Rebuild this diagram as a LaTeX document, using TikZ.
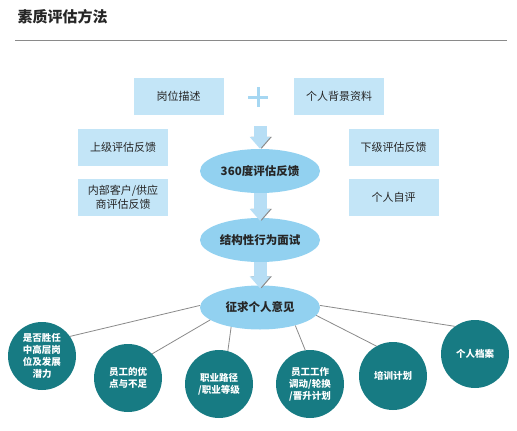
\documentclass[tikz,border=0pt]{standalone}
\usepackage{fontspec}
\setmainfont{Noto Sans CJK SC}
\usetikzlibrary{shapes.geometric,arrows.meta}

\definecolor{boxblue}{HTML}{C3E5F7}
\definecolor{ovalblue}{HTML}{92D1F0}
\definecolor{arrowblue}{HTML}{B7DEF5}
\definecolor{plusblue}{HTML}{A6D7F2}
\definecolor{circteal}{HTML}{177B83}
\definecolor{linegray}{HTML}{8A8A8A}

\tikzstyle{infobox} = [rectangle,fill=boxblue,minimum width=90pt,minimum height=37pt,inner sep=0pt,align=center,text=black!85,font=\fontsize{11}{14}\selectfont]
\tikzstyle{stage} = [ellipse,fill=ovalblue,minimum width=120pt,minimum height=44pt,inner sep=0pt,text=black!85,font=\bfseries\fontsize{11.5}{14}\selectfont]
\tikzstyle{result} = [circle,fill=circteal,minimum size=68pt,inner sep=0pt,align=center,text=white,font=\bfseries\fontsize{9.5}{12}\selectfont]
\tikzstyle{spoke} = [draw=linegray,line width=0.8pt]
\tikzstyle{downarrow} = [draw=arrowblue,line width=13pt,-{Triangle[width=20pt,length=12pt]},preaction={draw=linegray,transform canvas={xshift=1.5pt}}]

\begin{document}
\begin{tikzpicture}[x=1pt,y=-1pt]
	\useasboundingbox (0,0) rectangle (517,431);
	\node (title) [anchor=west,text=black!85,font=\bfseries\fontsize{15}{18}\selectfont] at (14,17) {素质评估方法};
	\coordinate (ruleL) at (15,40);
	\coordinate (ruleR) at (507,40);
	\draw [linegray,line width=0.8pt] (ruleL) -- (ruleR);
	\node (jobdesc) [infobox] at (178.5,96.5) {岗位描述};
	\node (profile) [infobox] at (339,96.5) {个人背景资料};
	\draw [plusblue,line width=3pt] (248,97) -- (268,97) (258,87) -- (258,107);
	\node (superior) [infobox] at (123,147.5) {上级评估反馈};
	\node (internal) [infobox] at (123,197) {内部客户/供应\\商评估反馈};
	\node (subordinate) [infobox] at (393.5,147.5) {下级评估反馈};
	\node (selfeval) [infobox] at (393.5,197) {个人自评};
	\node (feedback) [stage] at (260,171) {360度评估反馈};
	\node (interview) [stage] at (260,240) {结构性行为面试};
	\node (opinion) [stage] at (260,307.5) {征求个人意见};
	\node (c1) [result] at (42,356) {是否胜任\\中高层岗\\位及发展\\潜力};
	\node (c2) [result] at (128,378) {员工的优\\点与不足};
	\node (c3) [result] at (219,384) {职业路径\\/职业等级};
	\node (c4) [result] at (310,384) {员工工作\\调动/轮换\\/晋升计划};
	\node (c5) [result] at (393,376) {培训计划};
	\node (c6) [result] at (475,354) {个人档案};
	\coordinate (arrowtop) at (260,126);
	\draw [downarrow] (arrowtop) -- (feedback.north);
	\draw [downarrow] (feedback.south) -- ([yshift=-3pt]interview.north);
	\draw [downarrow] (interview.south) -- ([yshift=-3pt]opinion.north);
	\draw [spoke] (opinion.178) -- (c1.35);
	\draw [spoke] (opinion.194) -- (c2.45);
	\draw [spoke] (opinion.214) -- (c3.75);
	\draw [spoke] (opinion.333) -- (c4.98);
	\draw [spoke] (opinion.352) -- (c5.119);
	\draw [spoke] (opinion.2) -- (c6.126);
\end{tikzpicture}
\end{document}
